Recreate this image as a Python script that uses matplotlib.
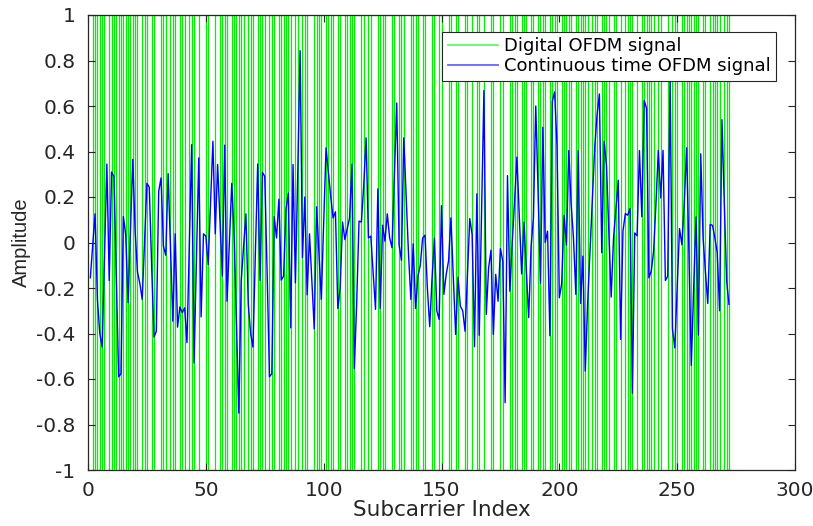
import numpy as np
import matplotlib
matplotlib.use("Agg")
import matplotlib.pyplot as plt
from matplotlib.ticker import FuncFormatter

# ---- data ----
# continuous time OFDM signal, samples at subcarrier index 1..272
cont_signal = [
    -0.155, -0.01, 0.126, -0.25, -0.40, -0.46, -0.06, 0.345, -0.167, 0.31,
    0.29, -0.15, -0.59, -0.577, 0.114, 0.035, -0.265, 0.05, 0.365, 0.05,
    -0.13, -0.18, -0.25, 0.0, 0.26, 0.243, -0.10, -0.416, -0.39, 0.225,
    0.284, -0.016, -0.056, 0.303, -0.02, -0.346, 0.038, -0.372, -0.283, -0.309,
    -0.287, -0.44, 0.0, 0.43, -0.53, -0.08, 0.372, -0.327, 0.038, 0.028,
    -0.097, 0.17, 0.445, 0.038, 0.343, 0.10, -0.148, 0.428, -0.258, 0.0,
    0.26, 0.03, -0.36, -0.75, -0.17, -0.02, 0.126, -0.27, -0.40, -0.46,
    -0.05, 0.345, -0.167, 0.309, 0.29, -0.13, -0.59, -0.577, 0.114, 0.02,
    0.19, -0.165, -0.148, 0.146, 0.218, -0.375, 0.343, -0.177, 0.30, 0.843,
    -0.067, 0.20, -0.23, 0.038, -0.17, -0.38, 0.157, -0.05, -0.25, 0.09,
    0.416, 0.31, 0.20, 0.108, 0.135, -0.29, -0.20, 0.09, 0.013, 0.06,
    0.108, 0.345, -0.555, -0.27, 0.094, 0.09, 0.25, 0.46, 0.02, 0.028,
    -0.13, -0.294, 0.236, -0.29, 0.076, 0.006, 0.126, 0.02, -0.023, 0.30,
    0.613, -0.01, -0.078, 0.46, 0.20, -0.05, -0.25, -0.006, -0.29, -0.148,
    -0.10, 0.02, 0.032, -0.20, -0.37, -0.155, 0.02, -0.30, -0.338, 0.162,
    -0.228, -0.14, -0.08, 0.108, -0.15, -0.404, -0.152, -0.28, -0.30, -0.39,
    -0.14, 0.105, 0.035, -0.458, 0.214, -0.408, 0.14, 0.668, -0.316, -0.11,
    -0.034, -0.404, -0.14, -0.258, -0.026, -0.082, -0.704, 0.294, -0.214, 0.0,
    0.18, 0.375, 0.12, -0.138, 0.09, -0.126, -0.33, -0.02, 0.108, 0.60,
    0.22, -0.18, 0.506, 0.0, 0.05, -0.41, 0.62, 0.662, 0.43, -0.243,
    -0.18, 0.12, -0.012, 0.404, 0.17, 0.02, -0.228, 0.404, -0.268, -0.06,
    -0.565, -0.27, -0.04, 0.196, 0.416, 0.56, 0.653, -0.045, 0.445, 0.34,
    0.05, -0.24, 0.02, 0.15, 0.274, -0.426, 0.05, 0.127, 0.12, 0.15,
    -0.663, 0.042, 0.03, 0.404, 0.113, 0.625, 0.59, -0.155, -0.126, -0.04,
    0.17, 0.405, 0.196, 0.405, -0.167, -0.148, 0.72, -0.38, -0.463, -0.20,
    0.061, -0.01, 0.17, 0.416, -0.05, -0.54, -0.20, 0.113, -0.408, 0.39,
    0.02, -0.13, -0.268, 0.08, 0.075, 0.02, -0.045, -0.30, 0.54, 0.17,
    -0.17, -0.272,
]
cont_index = list(range(1, len(cont_signal) + 1))

# digital OFDM signal: positions where the +/-1 digital level switches
digital_switch = [
    2, 3, 4, 5, 6, 7, 9, 10, 11, 12, 13, 14, 15, 16, 17, 18, 19, 20, 21, 23,
    24, 25, 27, 28, 31, 32, 33, 35, 36, 37, 39, 40, 41, 43, 44, 45,
    47, 50, 51, 54, 56, 57, 58, 59, 61, 62, 63, 64, 65, 66, 68, 69, 70, 72,
    73, 74, 75, 77, 78, 79, 81, 82, 83, 84, 85, 86, 88, 89, 91, 92,
    93, 96, 97, 98, 99, 101, 102, 103, 104, 106, 107, 109, 110, 111, 112, 113,
    116, 117, 119, 120, 123, 124, 125, 126, 129, 130, 132, 133, 134, 137, 138,
    139, 140, 142, 143, 146, 147, 149, 150, 153, 154, 156, 157, 160, 161, 163,
    165, 166, 168, 171, 172, 175, 176, 179, 180, 181, 182, 184, 185,
    186, 188, 189, 191, 192, 193, 194, 196, 197, 198, 199, 201, 202, 203, 204,
    205, 207, 208, 209, 210, 211, 212, 214, 215, 216, 218, 219, 220, 221, 223,
    224, 226, 228, 229, 230, 231,
    233, 235, 236, 237, 238, 239, 240, 242, 243, 246, 248, 249, 250, 252, 253,
    254, 255, 256, 257, 258, 259, 261, 262, 264, 265, 266, 267, 268, 270, 271,
    272,
]
digital_start, digital_end = 1, 273
digital_high, digital_low = 1.0, -1.0

x_ticks = [0, 50, 100, 150, 200, 250, 300]
y_ticks = [-1, -0.8, -0.6, -0.4, -0.2, 0, 0.2, 0.4, 0.6, 0.8, 1]

# ---- plot ----
plt.rcParams['font.family'] = ['DejaVu Sans']
fig = plt.figure(figsize=(8.13, 5.26), dpi=100)
ax = fig.add_axes([88 / 813, 1 - 470 / 526, (795 - 88) / 813, (470 - 15) / 526])

edges = [digital_start] + digital_switch + [digital_end]
levels = [digital_high if i % 2 == 0 else digital_low for i in range(len(edges) - 1)]
ax.stairs(levels, edges, color='#00f000', linewidth=0.9, baseline=None,
          label='Digital OFDM signal')
ax.plot(cont_index, cont_signal, color='#0000ff', linewidth=1.0,
        label='Continuous time OFDM signal')

ax.set_xlim(0, 300)
ax.set_ylim(-1, 1)
ax.set_xticks(x_ticks)
ax.set_yticks(y_ticks)
ax.yaxis.set_major_formatter(FuncFormatter(lambda v, p: ('%g' % round(v, 1))))
ax.tick_params(direction='in', top=True, right=True, length=5, width=0.8,
               labelsize=14.5, colors='#262626')
ax.tick_params(axis='y', pad=9)
ax.tick_params(axis='x', pad=8)
for s in ax.spines.values():
    s.set_color('#262626')
    s.set_linewidth(0.9)

ax.set_xlabel('Subcarrier Index', fontsize=15.5, color='#262626', va='top')
ax.xaxis.set_label_coords(0.5, (470 - 500) / 455)
ax.set_ylabel('Amplitude', fontsize=14.5, color='#262626',
              family=['Liberation Sans', 'DejaVu Sans'])
ax.yaxis.set_label_coords((31 - 88) / 707, 0.5)

leg = ax.legend(loc='upper right', bbox_to_anchor=((776 - 88) / 707, (470 - 32) / 455),
                fontsize=13, frameon=True, fancybox=False, borderpad=0.3,
                handlelength=2.8, handletextpad=0.3, labelspacing=0.1,
                borderaxespad=0)
leg.get_frame().set_edgecolor('#262626')
leg.get_frame().set_linewidth(0.8)
leg.get_frame().set_alpha(1)
for line in leg.get_lines():
    line.set_alpha(0.6)
    line.set_linewidth(1.3)

fig.savefig('out.png', dpi=100)
